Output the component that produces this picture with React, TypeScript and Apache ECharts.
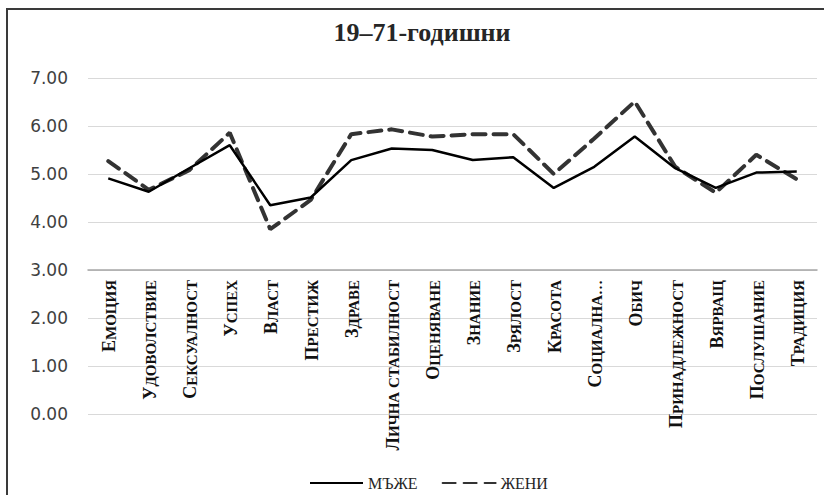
import React, { useEffect, useRef } from "react";
import * as echarts from "echarts";

const title = "19–71-годишни";
const categories = [
  "Емоция", "Удоволствие", "Сексуалност", "Успех", "Власт", "Престиж", "Здраве",
  "Лична стабилност", "Оценяване", "Знание", "Зрялост", "Красота", "Социална…",
  "Обич", "Принадлежност", "Вярващ", "Послушание", "Традиция",
];
const seriesNames = ["мъже", "жени"];
const men = [4.91, 4.63, 5.12, 5.6, 4.35, 4.51, 5.29, 5.53, 5.5, 5.29, 5.35, 4.71, 5.15, 5.78, 5.12, 4.71, 5.03, 5.05];
const women = [5.27, 4.67, 5.08, 5.86, 3.85, 4.46, 5.83, 5.93, 5.78, 5.83, 5.83, 5.0, 5.74, 6.51, 5.15, 4.61, 5.4, 4.89];
const yTicks = { min: 0, max: 7, interval: 1 };

export default function App() {
  const ref = useRef<HTMLDivElement>(null);
  useEffect(() => {
    if (!ref.current) return;
    const chart = echarts.init(ref.current, null, { renderer: "svg" });
    const serif = "'Liberation Serif', 'Times New Roman', serif";
    chart.setOption({
      animation: false,
      backgroundColor: "#ffffff",
      graphic: [
        {
          type: "rect",
          shape: { x: 7, y: 9, width: 840, height: 520 },
          style: { fill: "none", stroke: "#3a3a3a", lineWidth: 2 },
          silent: true,
        },
        {
          type: "text",
          x: 422,
          y: 19,
          style: {
            text: title,
            textAlign: "center",
            textVerticalAlign: "top",
            fontFamily: serif,
            fontWeight: "bold",
            fontSize: 26,
            fill: "#262626",
          },
          silent: true,
        },
      ],
      legend: {
        data: seriesNames,
        left: 304,
        top: 470,
        itemWidth: 53,
        itemHeight: 14,
        itemGap: 24,
        itemStyle: { opacity: 0 },
        formatter: (n: string) => n.toUpperCase(),
        textStyle: { fontFamily: serif, fontSize: 16, color: "#262626" },
      },
      grid: { left: 88, right: 7, top: 78, bottom: 81, containLabel: false },
      xAxis: {
        type: "category",
        data: categories,
        boundaryGap: true,
        offset: -144,
        axisLine: { onZero: false, lineStyle: { color: "#a6a6a6", width: 1.5 } },
        axisTick: { show: false },
        axisLabel: {
          interval: 0,
          rotate: 90,
          margin: 10,
          color: "#000",
          formatter: (v: string) => `{a|${v[0]}}{b|${v.slice(1).toUpperCase()}}`,
          rich: {
            a: { fontFamily: serif, fontWeight: "bold", fontSize: 18, color: "#111", verticalAlign: "bottom", lineHeight: 20 },
            b: { fontFamily: serif, fontWeight: "bold", fontSize: 15, color: "#111", verticalAlign: "bottom", lineHeight: 20 },
          },
        },
      },
      yAxis: {
        type: "value",
        min: yTicks.min,
        max: yTicks.max,
        interval: yTicks.interval,
        axisLine: { show: false },
        axisTick: { show: false },
        splitLine: { lineStyle: { color: "#d9d9d9", width: 1 } },
        axisLabel: {
          margin: 20,
          color: "#404040",
          fontFamily: "'DejaVu Sans', sans-serif",
          fontSize: 17,
          formatter: (v: number) => v.toFixed(2),
        },
      },
      series: [
        {
          name: seriesNames[0],
          type: "line",
          data: men,
          symbol: "none",
          itemStyle: { color: "#000" },
          lineStyle: { color: "#000", width: 2.5, type: "solid" },
          z: 3,
        },
        {
          name: seriesNames[1],
          type: "line",
          data: women,
          symbol: "none",
          itemStyle: { color: "#333" },
          lineStyle: { color: "#333", width: 4, type: [13, 8], cap: "round" },
          z: 2,
        },
      ],
    });
    return () => chart.dispose();
  }, []);
  return <div ref={ref} style={{ position: "fixed", left: 0, top: 0, width: 824, height: 495 }} />;
}
